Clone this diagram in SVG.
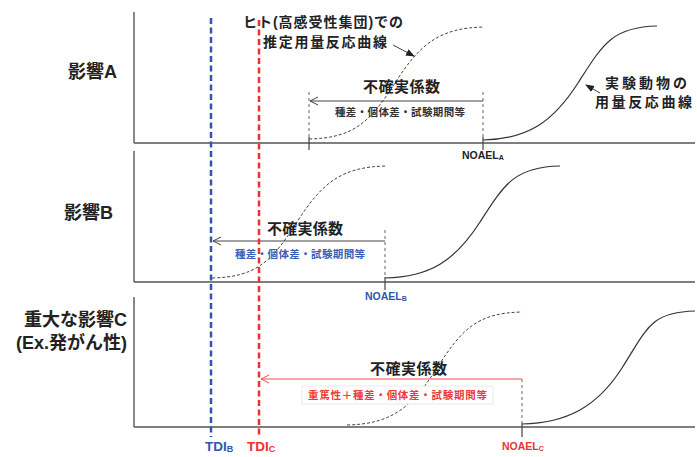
<svg xmlns="http://www.w3.org/2000/svg" width="697" height="457" viewBox="0 0 697 457">
<style>
.jp{font-family:"Liberation Sans","Noto Sans CJK JP",sans-serif;font-weight:bold;}
.lbl{font-size:18px;fill:#222;}
.note{font-size:14px;fill:#222;}
.uf{font-size:15px;fill:#222;}
.sm{font-size:10.5px;}
.axisY{stroke:#888;stroke-width:2;fill:none;}
.axisX{stroke:#555;stroke-width:1.4;fill:none;}
.dcurve{stroke:#444;stroke-width:1;stroke-dasharray:3 2;fill:none;}
.scurve{stroke:#333;stroke-width:1.2;fill:none;}
.guide{stroke:#666;stroke-width:1;stroke-dasharray:3 3;fill:none;}
.tick{stroke:#444;stroke-width:1.2;}
.arr{stroke:#444;stroke-width:1;fill:none;}
.noael{font-family:"Liberation Sans",sans-serif;font-weight:bold;font-size:10.5px;}
.tdi{font-family:"Liberation Sans",sans-serif;font-weight:bold;font-size:13.5px;}
</style>
<defs>
<marker id="open" markerWidth="10" markerHeight="10" refX="9" refY="5" orient="auto-start-reverse" markerUnits="userSpaceOnUse">
<path d="M1 1 L9 5 L1 9" fill="none" stroke="context-stroke" stroke-width="1"/>
</marker>
<marker id="fill" markerWidth="10" markerHeight="10" refX="8" refY="5" orient="auto" markerUnits="userSpaceOnUse">
<path d="M0 1.5 L9 5 L0 8.5 Z" fill="#222"/>
</marker>
</defs>
<rect width="697" height="457" fill="#fff"/>

<g id="panelA">
<line class="axisY" x1="134" y1="12" x2="134" y2="143"/>
<line class="axisX" x1="134" y1="143" x2="695" y2="143"/>
<text class="jp lbl" x="117" y="78" text-anchor="end">影響A</text>
<path class="dcurve" d="M309 139 C354 138 370 122 395 83 C420 44 439 28 484 27"/>
<path class="scurve" d="M483 140 C528 139 553 122 578 83 C603 44 612 27 657 26"/>
<line class="guide" x1="309" y1="92" x2="309" y2="137"/>
<line class="guide" x1="483" y1="92" x2="483" y2="137"/>
<line class="tick" x1="309" y1="137" x2="309" y2="150"/>
<line class="tick" x1="483" y1="137" x2="483" y2="150"/>
<line class="arr" x1="310" y1="101" x2="483" y2="101" marker-start="url(#open)"/>
<text class="jp uf" x="363" y="92" textLength="77" lengthAdjust="spacing">不確実係数</text>
<text class="jp sm" x="335" y="116" fill="#333" textLength="130" lengthAdjust="spacing">種差・個体差・試験期間等</text>
<text class="noael" x="462" y="159" fill="#222">NOAEL<tspan font-size="7" dy="0.5">A</tspan></text>
<text class="jp note" x="243" y="27" textLength="160" lengthAdjust="spacing">ヒト(高感受性集団)での</text>
<text class="jp note" x="263" y="47" textLength="124" lengthAdjust="spacing">推定用量反応曲線</text>
<line class="arr" x1="393" y1="45" x2="414" y2="56" marker-end="url(#fill)"/>
<text class="jp note" x="605" y="88" textLength="82" lengthAdjust="spacing">実験動物の</text>
<text class="jp note" x="595" y="107" textLength="97" lengthAdjust="spacing">用量反応曲線</text>
<line class="arr" x1="600" y1="93" x2="586" y2="85" marker-end="url(#fill)"/>
</g>

<g id="panelB">
<line class="axisY" x1="134" y1="151" x2="134" y2="282"/>
<line class="axisX" x1="134" y1="282" x2="695" y2="282"/>
<text class="jp lbl" x="113" y="219" text-anchor="end">影響B</text>
<path class="dcurve" d="M212 278 C257 277 272 261 297 222 C322 183 341 167 386 166"/>
<path class="scurve" d="M385 278 C430 277 455 261 480 222 C505 183 515 167 560 166"/>
<line class="guide" x1="385" y1="230" x2="385" y2="277"/>
<line class="tick" x1="385" y1="277" x2="385" y2="290"/>
<line class="arr" x1="213" y1="241" x2="385" y2="241" marker-start="url(#open)"/>
<text class="jp uf" x="267" y="234" textLength="76" lengthAdjust="spacing">不確実係数</text>
<text class="jp sm" x="235" y="258" fill="#3a5fb5" textLength="130" lengthAdjust="spacing">種差・個体差・試験期間等</text>
<text class="noael" x="365" y="300" fill="#2f56b0">NOAEL<tspan font-size="7" dy="0.5">B</tspan></text>
</g>

<g id="panelC">
<line class="axisY" x1="134" y1="297" x2="134" y2="427"/>
<line class="axisX" x1="134" y1="427" x2="695" y2="427"/>
<text class="jp lbl" x="127" y="326" text-anchor="end">重大な影響C</text>
<text class="jp lbl" x="127" y="349" text-anchor="end">(Ex.発がん性)</text>
<path class="dcurve" d="M347 425 C392 424 412 407 437 368 C462 329 477 313 522 312"/>
<path class="scurve" d="M522 424 C567 423 597 407 622 368 C647 329 650 312 695 311"/>
<line class="guide" x1="522" y1="379" x2="522" y2="423"/>
<line class="tick" x1="522" y1="423" x2="522" y2="437"/>
<line x1="261" y1="379" x2="522" y2="379" stroke="#f05050" stroke-width="1" marker-start="url(#open)"/>
<text class="jp uf" x="370" y="374" textLength="77" lengthAdjust="spacing">不確実係数</text>
<rect x="302" y="386" width="191" height="18" fill="#fff" stroke="#e4e4e4" stroke-width="0.8"/>
<text class="jp sm" x="308" y="399" fill="#f03a3a" textLength="179" lengthAdjust="spacing">重篤性＋種差・個体差・試験期間等</text>
<text class="noael" x="502" y="450" fill="#e83535">NOAEL<tspan font-size="7" dy="0.5">C</tspan></text>
</g>

<g id="TDI">
<line x1="211" y1="18" x2="211" y2="437" stroke="#2f55b0" stroke-width="2.5" stroke-dasharray="6 3.5"/>
<line x1="259" y1="20" x2="259" y2="437" stroke="#ee3030" stroke-width="2.5" stroke-dasharray="6 3.5"/>
<text class="tdi" x="205" y="451" fill="#2f55b0">TDI<tspan font-size="9" dy="1">B</tspan></text>
<text class="tdi" x="247" y="451" fill="#ee3030">TDI<tspan font-size="9" dy="1">C</tspan></text>
</g>
</svg>
